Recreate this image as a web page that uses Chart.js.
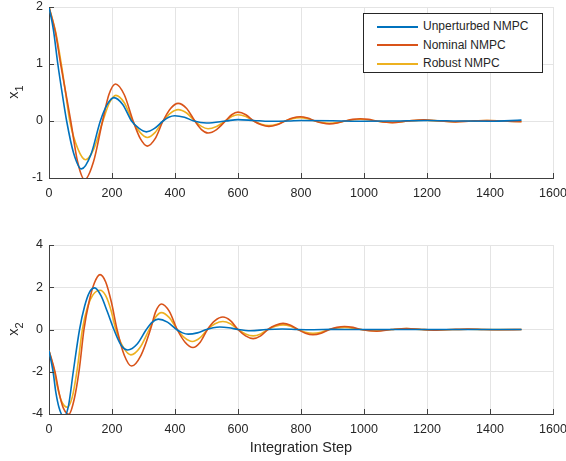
<!DOCTYPE html>
<html lang="en">
<head>
  <meta charset="UTF-8" />
  <title>NMPC state trajectories</title>
  <script src="https://cdn.jsdelivr.net/npm/chart.js"></script>
  <style>
    body {
      margin: 0;
      background: #ffffff;
      font-family: "Liberation Sans", Arial, sans-serif;
      color: #262626;
    }
    #wrap {
      position: relative;
      width: 566px;
      height: 461px;
    }
    canvas { position: absolute; left: 0; }
    #top { top: 0; }
    #bottom { top: 230px; }
    .ylab {
      position: absolute;
      font-size: 14.5px;
      transform: translate(-50%, -50%) rotate(-90deg);
      white-space: nowrap;
    }
    .ylab sub { font-size: 11px; vertical-align: -5px; }
    #legend {
      position: absolute;
      left: 363px;
      top: 13px;
      width: 178px;
      height: 58px;
      border: 1px solid #262626;
      background: #fff;
      font-size: 12px;
    }
    #legend div {
      position: absolute;
      left: 13px;
      height: 14px;
      line-height: 14px;
      white-space: nowrap;
    }
    #legend span.ln {
      display: inline-block;
      width: 41px;
      height: 2px;
      vertical-align: middle;
      margin-right: 5px;
    }
  </style>
</head>
<body>
  <div id="wrap">
    <canvas id="top" width="566" height="205"></canvas>
    <canvas id="bottom" width="566" height="231"></canvas>
    <div class="ylab" style="left:15px; top:92px;">x<sub>1</sub></div>
    <div class="ylab" style="left:15px; top:329px;">x<sub>2</sub></div>
    <div id="legend"></div>
  </div>

  <script>
    // series names and MATLAB default colours
    const names = ['Unperturbed NMPC', 'Nominal NMPC', 'Robust NMPC'];
    const colors = ['#0072BD', '#D95319', '#EDB120'];

    // axis ticks
    const xTicks = [0, 200, 400, 600, 800, 1000, 1200, 1400, 1600];
    const x1Ticks = [-1, 0, 1, 2];
    const x2Ticks = [-4, -2, 0, 2, 4];

    // x1, unperturbed
    const x1UnpSteps = [0, 14, 28, 42, 56, 78, 103, 133, 163, 185, 206, 234, 262, 286, 309, 335, 362, 380, 399, 430, 460, 500, 562, 600, 650, 700, 760, 800, 900, 1000, 1100, 1200, 1300, 1400, 1500];
    const x1Unp = [2.0, 1.6, 1.0, 0.48, 0.0, -0.56, -0.84, -0.59, 0.0, 0.29, 0.41, 0.29, 0.0, -0.13, -0.19, -0.13, 0.0, 0.066, 0.093, 0.066, 0.0, -0.035, 0.0, 0.025, 0.01, -0.005, 0.0, 0.01, 0.005, -0.005, 0.0, 0.008, 0.0, -0.005, 0.015];

    // x1, nominal
    const x1NomSteps = [0, 21, 37, 53, 69, 91, 113, 141, 170, 190, 211, 239, 267, 290, 312, 337, 362, 386, 410, 437, 463, 484, 505, 532, 560, 580, 600, 625, 650, 674, 698, 724, 750, 773, 797, 821, 845, 868, 890, 915, 940, 964, 988, 1014, 1040, 1090, 1140, 1190, 1240, 1290, 1340, 1390, 1440, 1500];
    const x1Nom = [2.0, 1.54, 1.0, 0.5, 0.0, -0.72, -1.03, -0.72, 0.0, 0.46, 0.65, 0.46, 0.0, -0.31, -0.44, -0.31, 0.0, 0.22, 0.31, 0.22, 0.0, -0.15, -0.21, -0.15, 0.0, 0.11, 0.155, 0.11, 0.0, -0.067, -0.095, -0.067, 0.0, 0.053, 0.075, 0.053, 0.0, -0.035, -0.05, -0.035, 0.0, 0.028, 0.04, 0.028, 0.0, -0.03, 0.0, 0.02, 0.0, -0.015, 0.0, 0.01, 0.0, -0.012];

    // x1, robust
    const x1RobSteps = [0, 22, 39, 53, 66, 91, 116, 143, 171, 192, 212, 239, 265, 289, 312, 337, 362, 386, 410, 437, 463, 484, 505, 532, 560, 580, 600, 625, 650, 674, 698, 724, 750, 773, 797, 821, 845, 868, 890, 915, 940, 964, 988, 1014, 1040, 1090, 1140, 1190, 1240, 1290, 1340, 1390, 1440, 1500];
    const x1Rob = [2.0, 1.54, 1.0, 0.48, 0.0, -0.48, -0.68, -0.48, 0.0, 0.32, 0.45, 0.32, 0.0, -0.2, -0.29, -0.2, 0.0, 0.14, 0.2, 0.14, 0.0, -0.095, -0.135, -0.095, 0.0, 0.078, 0.11, 0.078, 0.0, -0.057, -0.08, -0.057, 0.0, 0.042, 0.06, 0.042, 0.0, -0.028, -0.04, -0.028, 0.0, 0.021, 0.03, 0.021, 0.0, -0.025, 0.0, 0.015, 0.0, -0.012, 0.0, 0.008, 0.0, -0.01];

    // x2, unperturbed
    const x2UnpSteps = [0, 13, 22, 32, 47, 62, 77, 97, 113, 128, 145, 165, 185, 206, 228, 250, 280, 309, 328, 347, 376, 405, 424, 442, 471, 500, 521, 542, 571, 600, 640, 690, 740, 790, 840, 900, 1000, 1100, 1200, 1300, 1400, 1500];
    const x2Unp = [-1.0, -2.0, -3.0, -3.7, -4.15, -3.6, -2.0, 0.0, 1.1, 1.75, 1.97, 1.6, 0.85, 0.0, -0.72, -0.97, -0.69, 0.0, 0.35, 0.49, 0.35, 0.0, -0.16, -0.22, -0.16, 0.0, 0.085, 0.12, 0.085, 0.0, -0.06, 0.0, 0.025, 0.0, -0.01, 0.005, 0.0, 0.0, 0.0, 0.0, 0.0, 0.0];

    // x2, nominal
    const x2NomSteps = [0, 19, 32, 45, 63, 80, 96, 111, 127, 144, 162, 180, 198, 216, 239, 262, 292, 322, 339, 357, 382, 407, 432, 457, 480, 503, 527, 552, 576, 600, 624, 648, 672, 695, 719, 743, 767, 790, 814, 838, 864, 890, 914, 938, 965, 991, 1040, 1088, 1135, 1183, 1230, 1280, 1330, 1380, 1430, 1500];
    const x2Nom = [-1.0, -2.0, -3.0, -3.7, -4.02, -3.3, -1.9, 0.0, 1.3, 2.2, 2.6, 2.25, 1.3, 0.0, -1.22, -1.73, -1.22, 0.0, 0.86, 1.21, 0.86, 0.0, -0.6, -0.85, -0.6, 0.0, 0.42, 0.59, 0.42, 0.0, -0.3, -0.43, -0.3, 0.0, 0.2, 0.29, 0.2, 0.0, -0.18, -0.25, -0.18, 0.0, 0.1, 0.14, 0.1, 0.0, -0.08, 0.0, 0.05, 0.0, -0.03, 0.0, 0.02, 0.0, -0.01, 0.0];

    // x2, robust
    const x2RobSteps = [0, 16, 28, 40, 58, 74, 90, 106, 122, 140, 162, 180, 197, 212, 236, 260, 289, 318, 337, 357, 382, 407, 431, 455, 479, 503, 527, 552, 576, 600, 624, 648, 672, 695, 719, 743, 767, 790, 814, 838, 864, 890, 938, 991, 1040, 1088, 1135, 1183, 1230, 1280, 1330, 1380, 1430, 1500];
    const x2Rob = [-1.0, -1.9, -2.8, -3.4, -3.68, -3.19, -1.84, 0.0, 1.05, 1.65, 1.86, 1.6, 0.9, 0.0, -0.85, -1.2, -0.85, 0.0, 0.56, 0.8, 0.56, 0.0, -0.4, -0.57, -0.4, 0.0, 0.27, 0.38, 0.27, 0.0, -0.21, -0.3, -0.21, 0.0, 0.155, 0.22, 0.155, 0.0, -0.13, -0.18, -0.13, 0.0, 0.1, 0.0, -0.06, 0.0, 0.04, 0.0, -0.025, 0.0, 0.015, 0.0, -0.008, 0.0];

    const pts = (xs, ys) => xs.map((x, i) => ({ x: x, y: ys[i] }));

    const makeSets = (series) => series.map((s, i) => ({
      label: names[i],
      data: pts(s[0], s[1]),
      borderColor: colors[i],
      borderWidth: 1.6,
      pointRadius: 0,
      fill: false,
      cubicInterpolationMode: 'monotone'
    }));

    // MATLAB style ticks pointing into the axes
    const innerTicks = {
      id: 'innerTicks',
      afterDatasetsDraw(chart) {
        const { ctx, chartArea: a, scales: { x, y } } = chart;
        ctx.save();
        ctx.strokeStyle = '#404040';
        ctx.lineWidth = 1;
        ctx.beginPath();
        x.ticks.forEach(t => {
          const px = Math.round(x.getPixelForValue(t.value)) + 0.5;
          ctx.moveTo(px, a.bottom);
          ctx.lineTo(px, a.bottom - 5);
        });
        y.ticks.forEach(t => {
          const py = Math.round(y.getPixelForValue(t.value)) + 0.5;
          ctx.moveTo(a.left, py);
          ctx.lineTo(a.left + 5, py);
        });
        ctx.stroke();
        ctx.restore();
      }
    };

    const tickFont = { family: '"Liberation Sans", Arial, sans-serif', size: 12.5 };

    function makeOptions(yTicks, pad, xHeight, xTitle) {
      return {
        responsive: false,
        animation: false,
        layout: { padding: pad },
        plugins: { legend: { display: false }, tooltip: { enabled: false } },
        scales: {
          x: {
            type: 'linear',
            min: 0,
            max: 1600,
            afterBuildTicks: s => { s.ticks = xTicks.map(v => ({ value: v })); },
            afterFit: s => { s.height = xHeight; s.paddingLeft = 0; s.paddingRight = 0; },
            grid: { color: '#e4e4e4', drawTicks: false },
            border: { color: '#404040', width: 1 },
            ticks: { color: '#262626', font: tickFont, padding: 8, maxRotation: 0, callback: v => String(v) },
            title: xTitle
          },
          y: {
            min: yTicks[0],
            max: yTicks[yTicks.length - 1],
            afterBuildTicks: s => { s.ticks = yTicks.map(v => ({ value: v })); },
            afterFit: s => { s.width = 49; s.paddingTop = 0; s.paddingBottom = 0; },
            grid: { color: '#e4e4e4', drawTicks: false },
            border: { color: '#404040', width: 1 },
            ticks: { color: '#262626', font: tickFont, padding: 6, callback: v => String(v) }
          }
        }
      };
    }

    new Chart(document.getElementById('top'), {
      type: 'line',
      data: { datasets: makeSets([[x1UnpSteps, x1Unp], [x1NomSteps, x1Nom], [x1RobSteps, x1Rob]]) },
      options: makeOptions(x1Ticks, { top: 7, right: 13, left: 0, bottom: 0 }, 27, { display: false }),
      plugins: [innerTicks]
    });

    new Chart(document.getElementById('bottom'), {
      type: 'line',
      data: { datasets: makeSets([[x2UnpSteps, x2Unp], [x2NomSteps, x2Nom], [x2RobSteps, x2Rob]]) },
      options: makeOptions(x2Ticks, { top: 15, right: 13, left: 0, bottom: 0 }, 47, {
        display: true,
        text: 'Integration Step',
        color: '#262626',
        font: { family: '"Liberation Sans", Arial, sans-serif', size: 14.5 },
        padding: { top: 0, bottom: 4 }
      }),
      plugins: [innerTicks]
    });

    // legend box inside the top axes
    const legend = document.getElementById('legend');
    names.forEach((n, i) => {
      const row = document.createElement('div');
      row.style.top = (5 + i * 18.5) + 'px';
      row.innerHTML = '<span class="ln" style="background:' + colors[i] + '"></span>' + n;
      legend.appendChild(row);
    });
  </script>
</body>
</html>
